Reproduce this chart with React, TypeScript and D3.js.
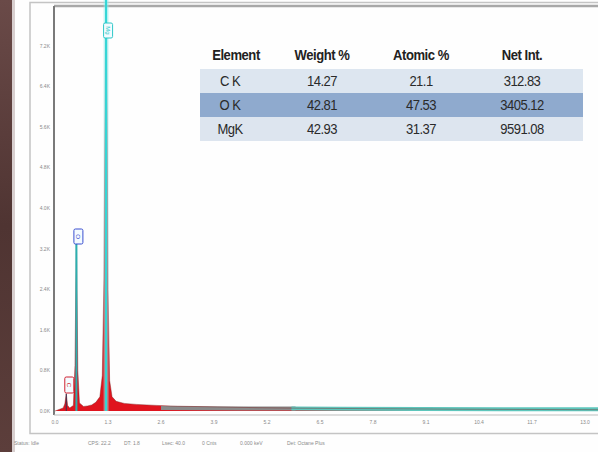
import React from "react";
import * as d3 from "d3";

// Spectrum (keV, counts)
const energies = [0.0, 0.1, 0.2, 0.24, 0.277, 0.31, 0.36, 0.45, 0.49, 0.51, 0.525, 0.54, 0.56, 0.6, 0.7, 0.8, 0.9, 1.0, 1.1, 1.16, 1.2, 1.23, 1.253, 1.275, 1.3, 1.34, 1.4, 1.5, 1.7, 2.0, 2.5, 3.0, 4.0, 5.0, 6.0, 8.0, 10.0, 13.4];
const counts = [0, 30, 60, 140, 340, 110, 60, 110, 900, 2400, 3420, 2400, 800, 160, 90, 100, 120, 170, 280, 700, 2600, 6400, 9600, 6400, 2400, 600, 280, 190, 150, 130, 110, 95, 80, 65, 55, 45, 35, 25];

// Continuum / fit bands along the baseline
const bandGrayE = [2.6, 3.5, 4.5, 5.9];
const bandGrayC = [60, 55, 50, 47];
const bandTealE = [5.8, 7.0, 9.0, 11.0, 13.4];
const bandTealC = [47, 44, 40, 36, 32];

// Peak markers
const markerNames = ["C", "O", "Mg"];
const markerE = [0.277, 0.525, 1.253];
const markerTop = [340, 3420, 9600];
const markerColors = ["#d02030", "#3a4fd0", "#2ec8c8"];

// Axis ticks
const yTicks = [0, 800, 1600, 2400, 3200, 4000, 4800, 5600, 6400, 7200];
const yTickLabels = ["0.0K", "0.8K", "1.6K", "2.4K", "3.2K", "4.0K", "4.8K", "5.6K", "6.4K", "7.2K"];
const xTicks = [0, 1.3, 2.6, 3.9, 5.2, 6.5, 7.8, 9.1, 10.4, 11.7, 13.0];

// Table
const tableHeader = ["Element", "Weight %", "Atomic %", "Net Int."];
const tableElements = ["C K", "O K", "MgK"];
const tableWeight = ["14.27", "42.81", "42.93"];
const tableAtomic = ["21.1", "47.53", "31.37"];
const tableNet = ["312.83", "3405.12", "9591.08"];

// Footer
const footerItems = ["Status: Idle", "CPS: 22.2", "DT: 1.8", "Lsec: 40.0", "0 Cnts", "0.000 keV", "Det: Octane Plus"];
const footerX = [14, 88, 124, 162, 202, 240, 287];

export default function App() {
  const W = 598, H = 452;
  const x = d3.scaleLinear().domain([0, 13.0]).range([55, 585]);
  const y = d3.scaleLinear().domain([0, 8000]).range([411, 5]);
  const plotTop = 6, plotBottom = 415, plotLeft = 54;

  const pts = energies.map((e, i) => [e, counts[i]] as [number, number]);
  const area = d3.area<[number, number]>().x(d => x(d[0])).y0(y(0)).y1(d => y(d[1]));
  const line = d3.line<[number, number]>().x(d => x(d[0])).y(d => y(d[1]));
  const grayPts = bandGrayE.map((e, i) => [e, bandGrayC[i]] as [number, number]);
  const tealPts = bandTealE.map((e, i) => [e, bandTealC[i]] as [number, number]);

  const colX = [236, 322, 421, 522];
  const tblLeft = 200, tblRight = 583;
  const rowTops = [69, 93, 117];
  const rowH = 24;
  const rowFills = ["#dde6f0", "#8faace", "#dde5ef"];

  const tableFont = "'Liberation Sans', Arial, sans-serif";
  const smallFont = "'Liberation Sans', Arial, sans-serif";

  const condensed = (cx: number, cy: number) => `translate(${cx} ${cy}) scale(0.9 1) translate(${-cx} ${-cy})`;

  return (
    <svg width={W} height={H} style={{ position: "absolute", left: 0, top: 0, background: "#fff" }}>
      <defs>
        <linearGradient id="strip" x1="0" y1="0" x2="0" y2="1">
          <stop offset="0" stopColor="#6a4a48" />
          <stop offset="0.5" stopColor="#4f3432" />
          <stop offset="1" stopColor="#5c3e3b" />
        </linearGradient>
        <clipPath id="plotClip">
          <rect x={plotLeft + 1} y={0} width={W - plotLeft} height={plotBottom - 1} />
        </clipPath>
      </defs>
      <rect x={0} y={0} width={W} height={H} fill="#fefefe" />
      <rect x={0} y={0} width={12} height={H} fill="url(#strip)" />
      <rect x={12} y={0} width={3} height={H} fill="#d8cfcf" />

      {/* outer frame */}
      <rect x={30} y={2.5} width={W} height={431} fill="none" stroke="#c4c4c4" strokeWidth={1.5} />
      {/* plot frame */}
      <line x1={plotLeft} y1={plotTop} x2={W} y2={plotTop} stroke="#a8a8a8" strokeWidth={2.5} />
      <line x1={plotLeft} y1={plotTop} x2={plotLeft} y2={plotBottom} stroke="#7a7a7a" strokeWidth={2} />
      <line x1={plotLeft} y1={plotBottom} x2={W} y2={plotBottom} stroke="#bdbdbd" strokeWidth={1} />

      {/* y ticks */}
      {yTicks.map((t, i) => (
        <text key={"yt" + i} x={50} y={y(t) + 2} fontSize={5} fill="#8a8a8a" textAnchor="end" fontFamily={smallFont}>
          {yTickLabels[i]}
        </text>
      ))}
      {/* x ticks */}
      {xTicks.map((t, i) => (
        <text key={"xt" + i} x={x(t)} y={424} fontSize={5} fill="#8a8a8a" textAnchor="middle" fontFamily={smallFont}>
          {t.toFixed(1)}
        </text>
      ))}

      <g clipPath="url(#plotClip)">
        {/* spectrum */}
        <path d={area(pts) || ""} fill="#e0141e" />
        <path d={line(grayPts) || ""} fill="none" stroke="#8a8a8a" strokeWidth={4} />
        <path d={line(tealPts) || ""} fill="none" stroke="#5ec6bc" strokeWidth={4} />
        <path d={line(pts) || ""} fill="none" stroke="#7a2020" strokeWidth={0.6} opacity={0.7} />
        {/* marker lines */}
        {markerE.map((e, i) => (
          <g key={"m" + i}>
            {i === 2 && (
              <line x1={x(e)} x2={x(e)} y1={0} y2={y(0)} stroke="#8ff0f0" strokeWidth={5} opacity={0.5} />
            )}
            <line x1={x(e)} x2={x(e)} y1={i === 2 ? 0 : y(markerTop[i])} y2={y(0)}
              stroke={i === 0 ? "#335" : i === 1 ? "#2ab0b0" : "#30d8d8"} strokeWidth={i === 0 ? 1 : 2} />
          </g>
        ))}
        {/* marker labels */}
        {markerNames.map((n, i) => {
          const cx = x(markerE[i]) + (i === 0 ? 3 : 2);
          const bottom = i === 2 ? 38 : i === 1 ? 244 : 393;
          const h = i === 0 ? 16 : 15;
          return (
            <g key={"ml" + i}>
              <rect x={cx - 4.5} y={bottom - h} width={9} height={h} fill="#f4fbff" stroke={markerColors[i]} strokeWidth={1} rx={1.5} />
              <text x={cx} y={bottom - h / 2} fontSize={6} fill={markerColors[i]} textAnchor="middle" dominantBaseline="central"
                transform={`rotate(90 ${cx} ${bottom - h / 2})`} fontFamily={smallFont}>
                {n}
              </text>
            </g>
          );
        })}
      </g>

      {/* table */}
      {rowTops.map((t, i) => (
        <rect key={"r" + i} x={tblLeft} y={t} width={tblRight - tblLeft} height={rowH} fill={rowFills[i]} />
      ))}
      {tableHeader.map((h, i) => (
        <text key={"h" + i} x={colX[i]} y={60} fontSize={14.5} fontWeight="bold" fill="#222" textAnchor="middle"
          fontFamily={tableFont} transform={condensed(colX[i], 60)} style={{ letterSpacing: "-0.5px" }}>
          {h}
        </text>
      ))}
      {tableElements.map((el, i) => {
        const ty = rowTops[i] + 17;
        const vals = [el, tableWeight[i], tableAtomic[i], tableNet[i]];
        return vals.map((v, j) => {
          const cx = j === 0 ? colX[0] - 6 : colX[j];
          return (
            <text key={`c${i}-${j}`} x={cx} y={ty} fontSize={14.5} fill="#2a2a2a"
              textAnchor="middle" fontFamily={tableFont} transform={condensed(cx, ty)} style={{ letterSpacing: "-0.6px" }}>
              {v}
            </text>
          );
        });
      })}

      {/* footer */}
      {footerItems.map((f, i) => (
        <text key={"f" + i} x={footerX[i]} y={445} fontSize={5} fill="#8a8a8a" fontFamily={smallFont}>
          {f}
        </text>
      ))}
    </svg>
  );
}
